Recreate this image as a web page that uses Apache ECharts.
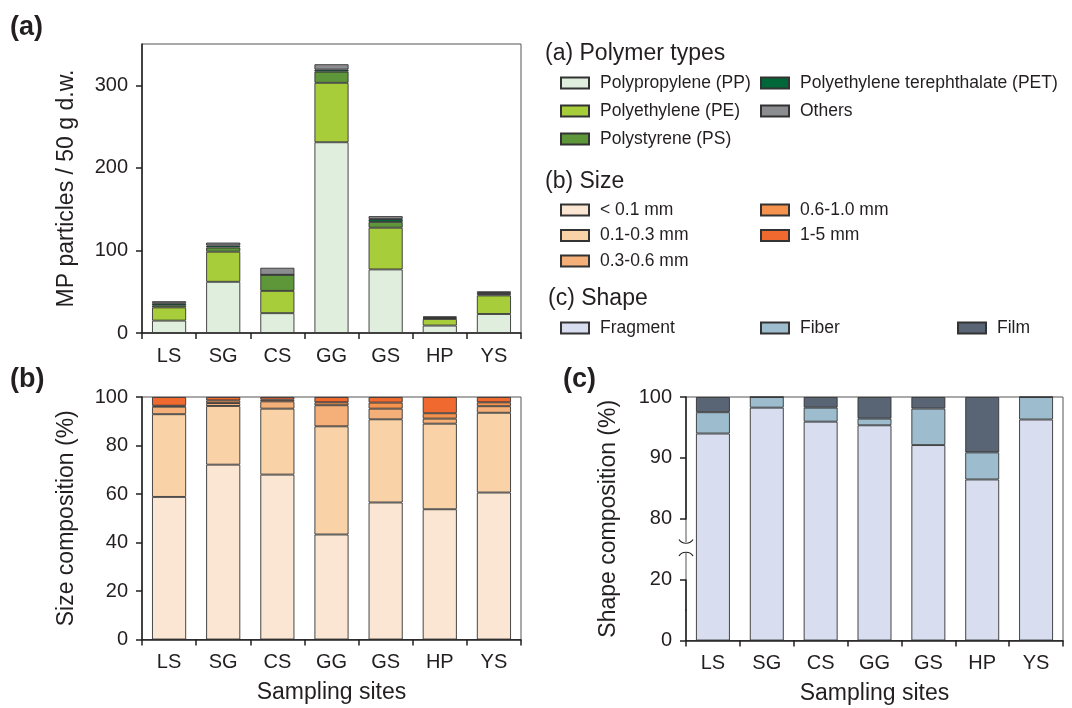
<!DOCTYPE html>
<html><head><meta charset="utf-8">
<script src="https://cdn.jsdelivr.net/npm/echarts@6/dist/echarts.min.js"></script>
<style>html,body{margin:0;padding:0;background:#fff}#c{width:1072px;height:708px}</style>
</head><body><div id="c"></div>
<script>
// ---------- data ----------
const sites = ['LS', 'SG', 'CS', 'GG', 'GS', 'HP', 'YS'];
// (a) polymer types, particles / 50 g d.w.
const pp     = [15, 62, 24, 231, 77, 9, 23];
const pe     = [16, 36.5, 27, 72, 50.5, 8, 22.5];
const ps     = [2.5, 5, 19.5, 13.5, 7, 1, 1.5];
const pet    = [2.5, 2.5, 0, 2.5, 3.5, 1, 1.5];
const others = [2.5, 3.5, 8.5, 6.5, 3.5, 1, 2];
// (b) size composition, %
const sizeLt01 = [58.8, 72.1, 68.0, 43.3, 56.5, 53.7, 60.6];
const size0103 = [34.1, 24.2, 27.2, 44.6, 34.3, 35.3, 32.9];
const size0306 = [3.1, 1.2, 3.0, 8.7, 4.4, 2.1, 2.7];
const size0610 = [0.4, 1.1, 0.7, 1.2, 2.5, 2.2, 1.6];
const size15   = [3.6, 1.4, 1.1, 2.2, 2.3, 6.7, 2.2];
// (c) shape composition, %
const fragment = [94.0, 98.25, 95.95, 95.35, 92.1, 86.45, 96.3];
const fiber    = [3.5, 1.75, 2.3, 1.1, 6.0, 4.45, 3.7];
const film     = [2.5, 0, 1.75, 3.55, 1.9, 9.1, 0];
// tick labels
const ticksA = [0, 100, 200, 300];
const ticksB = [0, 20, 40, 60, 80, 100];
const ticksC = [0, 20, 80, 90, 100];

// ---------- style ----------
const FONT = '"Liberation Sans", Arial, Helvetica, sans-serif';
const INK = '#231f20';
const COL = {
  pp: '#dfeedd', pe: '#a8cd3a', ps: '#5e963a', pet: '#006838', oth: '#8c8d90',
  s1: '#fae6d3', s2: '#f9d3a7', s3: '#f4b078', s4: '#f5924d', s5: '#f06a30',
  frag: '#d8ddef', fib: '#9dbdce', film: '#596475'
};
const TICK_FS = 20, TITLE_FS = 23, LEG_FS = 17.5, HEAD_FS = 23;

function catAxis(gi, name) {
  return {
    type: 'category', gridIndex: gi, data: sites,
    axisLine: { show: true, lineStyle: { color: INK, width: 1.5 } },
    axisTick: { show: true, length: 6, lineStyle: { color: INK, width: 1.5 } },
    axisLabel: { color: INK, fontSize: TICK_FS, fontFamily: FONT, margin: 13 },
    name: name || '', nameLocation: 'middle', nameGap: 42,
    nameTextStyle: { color: INK, fontSize: TITLE_FS, fontFamily: FONT }
  };
}
function valAxis(gi, min, max, interval, ticks, name, nameGap) {
  return {
    type: 'value', gridIndex: gi, min: min, max: max, interval: interval,
    axisLine: { show: true, lineStyle: { color: INK, width: 1.5 } },
    axisTick: { show: true, length: 6, lineStyle: { color: INK, width: 1.5 }, customValues: ticks },
    axisLabel: { color: INK, fontSize: TICK_FS, fontFamily: FONT, margin: 14, customValues: ticks },
    splitLine: { show: false },
    name: name || '', nameLocation: 'middle', nameGap: nameGap || 50,
    nameTextStyle: { color: INK, fontSize: TITLE_FS, fontFamily: FONT }
  };
}
function bar(name, data, color, gi, stack) {
  return {
    type: 'bar', name: name, data: data, xAxisIndex: gi, yAxisIndex: gi, stack: stack,
    barWidth: '63%',
    itemStyle: { color: color, borderColor: '#333', borderWidth: 0.9 },
    emphasis: { disabled: true }, animation: false
  };
}
function legend(names, left, top, gap) {
  return {
    data: names, left: left, top: top, orient: 'vertical', padding: 0,
    itemWidth: 28, itemHeight: 11, itemGap: gap, icon: 'rect', selectedMode: false,
    textStyle: { color: INK, fontSize: LEG_FS, fontFamily: FONT, padding: [0, 0, 0, 6] }
  };
}
function title(text, left, top, size, bold) {
  return { text: text, left: left, top: top, padding: 0,
    textStyle: { color: INK, fontSize: size, fontFamily: FONT, fontWeight: bold ? 'bold' : 'normal' } };
}

const names = {
  pp: 'Polypropylene (PP)', pe: 'Polyethylene (PE)', ps: 'Polystyrene (PS)',
  pet: 'Polyethylene terephthalate (PET)', oth: 'Others',
  s1: '< 0.1 mm', s2: '0.1-0.3 mm', s3: '0.3-0.6 mm', s4: '0.6-1.0 mm', s5: '1-5 mm',
  frag: 'Fragment', fib: 'Fiber', film: 'Film'
};

// panel (c) axis: broken scale (lower part compressed, upper 80-100 expanded)
const axisC = valAxis(2, 0, 100, 10, ticksC, 'Shape composition (%)', 66);
axisC.breaks = [
  { start: 5, end: 15, gap: 0 },
  { start: 20, end: 80, gap: 10 }
];
axisC.breakArea = { show: false };
axisC.breakLabelLayout = { moveOverlap: false };

const option = {
  backgroundColor: '#fff',
  animation: false,
  title: [
    title('(a)', 10, 14, 27, true),
    title('(b)', 10, 366, 27, true),
    title('(c)', 563, 366, 27, true),
    title('(a) Polymer types', 545, 42, HEAD_FS),
    title('(b) Size', 545, 170, HEAD_FS),
    title('(c) Shape', 548, 287, HEAD_FS)
  ],
  legend: [
    legend([names.pp, names.pe, names.ps], 560, 74, 10),
    legend([names.pet, names.oth], 760, 74, 10),
    legend([names.s1, names.s2, names.s3], 560, 201, 7.5),
    legend([names.s4, names.s5], 760, 201, 7.5),
    legend([names.frag], 560, 319, 10),
    legend([names.fib], 760, 319, 10),
    legend([names.film], 957, 319, 10)
  ],
  grid: [
    { left: 142, top: 44, width: 379, height: 289, show: true, borderColor: '#555', borderWidth: 1 },
    { left: 142, top: 397, width: 379, height: 242.5, show: true, borderColor: '#555', borderWidth: 1 },
    { left: 686, top: 397, width: 377, height: 243.5, show: true, borderColor: '#555', borderWidth: 1 }
  ],
  xAxis: [
    catAxis(0),
    catAxis(1, 'Sampling sites'),
    catAxis(2, 'Sampling sites')
  ],
  yAxis: [
    valAxis(0, 0, 350, 100, ticksA, 'MP particles / 50 g d.w.', 64),
    valAxis(1, 0, 100, 20, ticksB, 'Size composition (%)', 64),
    axisC
  ],
  series: [
    bar(names.pp, pp, COL.pp, 0, 'a'),
    bar(names.pe, pe, COL.pe, 0, 'a'),
    bar(names.ps, ps, COL.ps, 0, 'a'),
    bar(names.pet, pet, COL.pet, 0, 'a'),
    bar(names.oth, others, COL.oth, 0, 'a'),
    bar(names.s1, sizeLt01, COL.s1, 1, 'b'),
    bar(names.s2, size0103, COL.s2, 1, 'b'),
    bar(names.s3, size0306, COL.s3, 1, 'b'),
    bar(names.s4, size0610, COL.s4, 1, 'b'),
    bar(names.s5, size15, COL.s5, 1, 'b'),
    bar(names.frag, fragment, COL.frag, 2, 'c'),
    bar(names.fib, fiber, COL.fib, 2, 'c'),
    bar(names.film, film, COL.film, 2, 'c')
  ],
  graphic: [
    { type: 'rect', z: 100, shape: { x: 678, y: 542, width: 14, height: 11 }, style: { fill: '#fff' } },
    { type: 'bezierCurve', z: 101,
      shape: { x1: 679, y1: 539.5, cpx1: 682, cpy1: 544.5, cpx2: 690, cpy2: 544.5, x2: 693, y2: 539.5 },
      style: { stroke: INK, lineWidth: 1.2, fill: null } },
    { type: 'bezierCurve', z: 101,
      shape: { x1: 679, y1: 556, cpx1: 682, cpy1: 551, cpx2: 690, cpy2: 551, x2: 693, y2: 556 },
      style: { stroke: INK, lineWidth: 1.2, fill: null } }
  ]
};
const chart = echarts.init(document.getElementById('c'));
chart.setOption(option);
</script>
</body></html>
